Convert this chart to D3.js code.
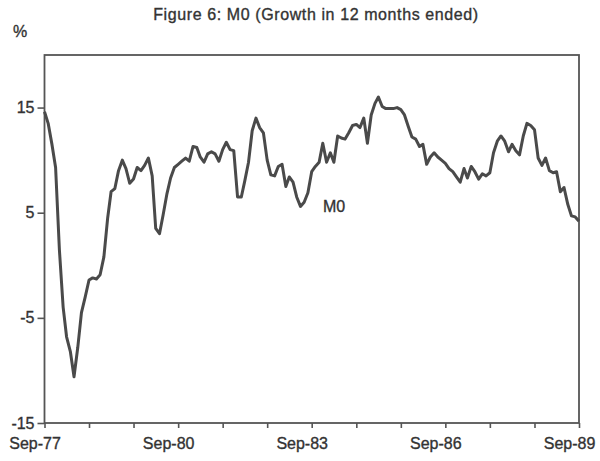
<!DOCTYPE html>
<html><head><meta charset="utf-8">
<script src="https://cdn.jsdelivr.net/npm/d3@7"></script>
<style>body{margin:0;background:#fff}svg{display:block}</style>
</head><body><svg id="c" width="600" height="461"></svg>
<script>
const chartTitle = "Figure 6: M0 (Growth in 12 months ended)";
const unitLabel = "%";
const seriesName = "M0";
const startMonth = "1977-09";
const endMonth = "1989-09";
// monthly % growth in 12 months ended, Sep-77 .. Sep-89
const m0Growth = [
  14.6, 13.5, 11.5, 9.3, 1.5, -4.0, -6.8, -8.2, -10.6, -7.8, -4.5, -3.0,
  -1.4, -1.2, -1.3, -0.9, 0.8, 4.5, 7.0, 7.3, 9.0, 10.0, 9.2, 7.8,
  8.2, 9.3, 9.0, 9.5, 10.2, 8.5, 3.5, 3.0, 4.8, 6.8, 8.3, 9.3,
  9.6, 9.9, 10.2, 9.9, 11.3, 11.2, 10.3, 9.8, 10.6, 10.8, 10.6, 9.9,
  11.0, 11.7, 11.0, 10.9, 6.5, 6.5, 8.0, 9.8, 12.8, 14.0, 13.1, 12.6,
  10.0, 8.6, 8.5, 9.4, 9.6, 7.5, 8.4, 7.9, 6.5, 5.6, 6.0, 6.9,
  8.9, 9.4, 9.8, 11.6, 9.8, 10.7, 9.8, 12.3, 12.1, 12.0, 12.6, 13.3,
  13.4, 13.1, 14.0, 11.6, 14.3, 15.4, 16.0, 15.1, 14.9, 14.9, 14.9, 15.0,
  14.8, 14.3, 13.2, 12.2, 12.0, 11.3, 11.5, 9.6, 10.3, 10.7, 10.3, 10.0,
  9.7, 9.2, 8.9, 8.4, 7.9, 9.2, 8.3, 9.4, 8.9, 8.2, 8.7, 8.5,
  8.8, 10.7, 11.8, 12.3, 11.8, 10.8, 11.5, 10.9, 10.5, 12.3, 13.5, 13.3,
  12.9, 10.2, 9.5, 10.2, 9.0, 8.8, 8.9, 7.0, 7.4, 5.8, 4.7, 4.6,
  4.2
];
const yDomain = [-15, 20];
const yTicks = [15, 5, -5, -15];
const xLabelEvery = 3; // years
const xTickLabels = ["Sep-77", "Sep-80", "Sep-83", "Sep-86", "Sep-89"];

const svg = d3.select("#c");
const W = 600, H = 461;
const L = 44.5, R = 579, T = 55, B = 423;
const parse = d3.timeParse("%Y-%m");
const t0 = parse(startMonth), t1 = parse(endMonth);
const data = m0Growth.map((v, i) => ({ date: d3.timeMonth.offset(t0, i), value: v }));

const x = d3.scaleTime().domain([t0, t1]).range([L, R]);
const y = d3.scaleLinear().domain(yDomain).range([B, T]);

const ink = "#333";
const font = "'Liberation Sans', Arial, Helvetica, sans-serif";
function styleText(sel) {
  return sel.attr("font-family", font).attr("font-size", 16).attr("fill", ink)
    .attr("stroke", ink).attr("stroke-width", 0.35);
}

svg.append("rect").attr("width", W).attr("height", H).attr("fill", "#fff");

// title
styleText(svg.append("text").attr("x", 316).attr("y", 20).attr("text-anchor", "middle")
  .attr("letter-spacing", 0.6).text(chartTitle));
styleText(svg.append("text").attr("x", 13).attr("y", 37).text(unitLabel));

// frame
svg.append("rect").attr("x", L).attr("y", T).attr("width", R - L).attr("height", B - T)
  .attr("fill", "none").attr("stroke", "#555").attr("stroke-width", 1.8);

// y axis
const yAxis = d3.axisLeft(y).tickValues(yTicks).tickSize(7).tickPadding(3)
  .tickFormat(d => String(d));
const gy = svg.append("g").attr("transform", `translate(${L},0)`).call(yAxis);
gy.select(".domain").remove();
gy.selectAll("line").attr("stroke", "#555").attr("stroke-width", 1.6);
styleText(gy.selectAll("text"));

// x axis
const xTickDates = d3.range(0, 13).map(k => d3.timeMonth.offset(t0, 12 * k));
const xAxis = d3.axisBottom(x).tickValues(xTickDates).tickSize(5).tickPadding(10)
  .tickFormat((d, i) => i % xLabelEvery === 0 ? xTickLabels[i / xLabelEvery] : "");
const gx = svg.append("g").attr("transform", `translate(0,${B})`).call(xAxis);
gx.select(".domain").remove();
gx.selectAll("line").attr("stroke", "#555").attr("stroke-width", 1.6);
styleText(gx.selectAll("text")).attr("dx", -10);

// line
svg.append("path").datum(data)
  .attr("fill", "none").attr("stroke", "#4a4a4a").attr("stroke-width", 3)
  .attr("stroke-linejoin", "round")
  .attr("d", d3.line().x(d => x(d.date)).y(d => y(d.value)));

// series label
styleText(svg.append("text").attr("x", 323).attr("y", 212).text(seriesName));
</script>
</body></html>
